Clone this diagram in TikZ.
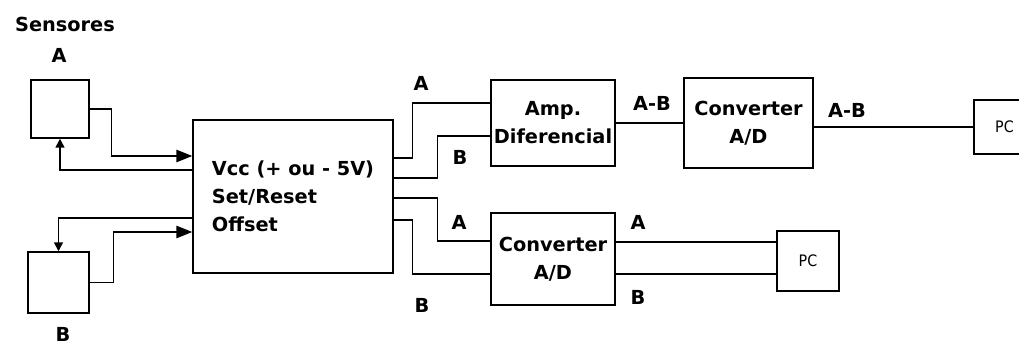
\documentclass[tikz,border=0pt]{standalone}
\usepackage{fontspec}
\setmainfont{DejaVu Sans}
\newfontfamily\pcfont{DejaVu Sans Condensed}
\usetikzlibrary{arrows.meta}

\begin{document}
\begin{tikzpicture}[
  x=0.02cm, y=-0.02cm,
  every node/.style={inner sep=1pt},
  lbl/.style={font=\fontsize{11}{16}\selectfont\bfseries},
  blk/.style={draw, line width=0.85pt, inner sep=0pt, align=center,
    font=\fontsize{11}{16}\selectfont\bfseries},
  pcbox/.style={draw, line width=0.85pt, inner sep=0pt,
    font=\fontsize{9}{10}\selectfont\pcfont},
  wire/.style={draw, line width=0.85pt},
  into/.style={-{Triangle[length=9pt,width=7pt]}},
  back/.style={-{Triangle[length=5pt,width=5pt]}}]

  \useasboundingbox (0,0) rectangle (1019,347);

  %% ---------------- sensors ----------------
  \node[lbl] (tit) at (65,24) {Sensores};
  \node[lbl] (labA) at (59,55) {A};
  \node[lbl] (labB) at (63,334) {B};
  \node[blk, minimum width=1.16cm, minimum height=1.16cm] (sA) at (60,109) {};
  \node[blk, minimum width=1.22cm, minimum height=1.22cm] (sB) at (58.5,282.5) {};

  %% ---------------- conditioning block ----------------
  \node[blk, align=left, minimum width=4.0cm, minimum height=3.06cm] (vcc) at (293,196.5)
    {Vcc (+ ou - 5V)\\Set/Reset\\Offset};
  % sensor outputs into the block
  \draw[wire, into] (sA.east) -- ++(22,0) |- (vcc.west |- 0,156);
  \draw[wire, into] (sB.east) -- ++(24,0) |- (vcc.west |- 0,232);
  % supply back to the sensors
  \draw[wire, back] (vcc.west |- 0,170) -| (sA.south);
  \draw[wire, back] (vcc.west |- 0,218) -| (sB.north);

  %% ---------------- upper chain ----------------
  \node[blk, minimum width=2.48cm, minimum height=1.72cm] (amp) at (553,123) {Amp.\\Diferencial};
  \node[blk, minimum width=2.58cm, minimum height=1.8cm] (cv1) at (748.5,123) {Converter\\A/D};
  \node[pcbox, minimum width=1.22cm, minimum height=1.08cm] (pc1) at (1004.5,127) {PC};
  \draw[wire] (vcc.east |- 0,158) -- ++(19,0) |- (amp.west |- 0,103);
  \draw[wire] (vcc.east |- 0,178) -- ++(44,0) |- (amp.west |- 0,136);
  \draw[wire] (amp.east) -- (cv1.west);
  \draw[wire] (cv1.east |- pc1.west) -- (pc1.west);
  \node[lbl] (uA) at (421,83) {A};
  \node[lbl] (uB) at (460,157) {B};
  \node[lbl] (uAB1) at (652,103) {A-B};
  \node[lbl] (uAB2) at (847,110) {A-B};

  %% ---------------- lower chain ----------------
  \node[blk, minimum width=2.48cm, minimum height=1.84cm] (cv2) at (553,259) {Converter\\A/D};
  \node[pcbox, minimum width=1.24cm, minimum height=1.2cm] (pc2) at (808,261) {PC};
  \draw[wire] (vcc.east |- 0,198) -- ++(44,0) |- (cv2.west |- 0,241);
  \draw[wire] (vcc.east |- 0,220) -- ++(19,0) |- (cv2.west |- 0,274);
  \draw[wire] (cv2.east |- 0,242) -- (pc2.west |- 0,242);
  \draw[wire] (cv2.east |- 0,274) -- (pc2.west |- 0,274);
  \node[lbl] (lA1) at (459,222) {A};
  \node[lbl] (lB1) at (422,305) {B};
  \node[lbl] (lA2) at (638,222) {A};
  \node[lbl] (lB2) at (638,297) {B};

\end{tikzpicture}
\end{document}
